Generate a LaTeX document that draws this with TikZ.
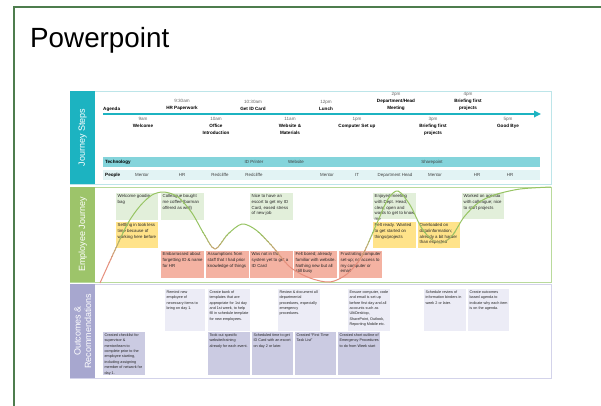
\documentclass[tikz,border=0pt]{standalone}
\usepackage{fontspec}
\setmainfont{Liberation Sans}
\usetikzlibrary{arrows.meta}

% palette
\definecolor{framegreen}{HTML}{4E7D4E}
\definecolor{stepteal}{HTML}{1CB3C1}
\definecolor{techbar}{HTML}{84D4DB}
\definecolor{peoplebar}{HTML}{E2F3F4}
\definecolor{stepframe}{HTML}{BDE5E9}
\definecolor{journeyband}{HTML}{9DC46A}
\definecolor{journeyframe}{HTML}{B9DA9C}
\definecolor{goodcard}{HTML}{E2EFDA}
\definecolor{mehcard}{HTML}{FFE38A}
\definecolor{badcard}{HTML}{F4B2A2}
\definecolor{outband}{HTML}{A7A7CF}
\definecolor{outframe}{HTML}{D3D3EA}
\definecolor{reclight}{HTML}{ECECF6}
\definecolor{recdark}{HTML}{CBCBE2}
\definecolor{curvegreen}{HTML}{97C463}
\definecolor{curvered}{HTML}{E68E7C}
\definecolor{timegray}{HTML}{666666}

\tikzset{
  band/.style={fill=#1, draw=none, anchor=north west, inner sep=0pt},
  bandlabel/.style={rotate=90, text=white, font=\fontsize{9}{10.5}\selectfont, align=center, inner sep=0pt},
  sectionframe/.style={draw=#1, line width=1pt},
  cardbox/.style={draw=none, anchor=north west, inner sep=0pt},
  cardtext/.style={anchor=north west, inner sep=1.5pt, font=\fontsize{4.35}{5.6}\selectfont, text=black!85},
  smallcard/.style={cardtext/.append style={inner sep=1.4pt, font=\fontsize{3.75}{5.4}\selectfont}},
  stepabove/.style={anchor=south, align=center, inner sep=0pt, font=\fontsize{4.6}{7}\selectfont},
  stepbelow/.style={anchor=north, align=center, inner sep=0pt, font=\fontsize{4.6}{7}\selectfont},
  rowbar/.style={fill=#1, draw=none, anchor=north west, inner sep=0pt, minimum width=437pt, minimum height=10pt},
  rowhead/.style={anchor=west, inner sep=0pt, font=\fontsize{4.6}{5.5}\selectfont\bfseries},
  rowitem/.style={inner sep=0pt, font=\fontsize{4.4}{5.5}\selectfont, text=black!75},
  timeline/.style={draw=stepteal, line width=1.6pt, -{Triangle[length=7pt,width=6.5pt]}},
}

\newcommand\tm[1]{{\color{timegray}\mdseries #1}}
% card: name, x, y, width, height, fill, text
\newcommand\jcard[7]{%
  \node[cardbox, fill=#6, minimum width=#4pt, minimum height=#5pt] (#1) at (#2,#3) {};
  \node[cardtext] (#1-t) at (#1.north west) {\parbox[t]{\dimexpr#4pt-2.8pt\relax}{\raggedright #7}};
}

\begin{document}
\begin{tikzpicture}[x=1pt, y=-1pt]
\clip (0,0) rectangle (601,405);
\useasboundingbox (0,0) rectangle (601,405);
\fill[white] (0,0) rectangle (601,405);

% slide frame and title
\draw[framegreen, line width=2pt] (14,7) rectangle (640,440);
\node[anchor=base west, inner sep=0pt, font=\fontsize{27.8}{30}\selectfont] (title) at (30,47) {Powerpoint};

% ---------------- Journey steps ----------------
\draw[sectionframe=stepframe] (70,91) rectangle (551,184);
\node[band=stepteal, minimum width=25pt, minimum height=93pt] (bsteps) at (70,91) {};
\node[bandlabel] (lsteps) at (bsteps.center) {Journey Steps};

\coordinate (tl0) at (103,114);
\coordinate (tl1) at (541,114);
\draw[timeline] (tl0) -- (tl1);
\node[anchor=south west, inner sep=0pt, font=\fontsize{4.6}{5.5}\selectfont\bfseries] (agenda) at (103,112) {Agenda};

\node[stepabove] (s0930) at (182,111) {\tm{9:30am}\\\bfseries HR Paperwork};
\node[stepabove] (s1030) at (253,111) {\tm{10:30am}\\\bfseries Get ID Card};
\node[stepabove] (s1200) at (326,111) {\tm{12pm}\\\bfseries Lunch};
\node[stepabove] (s1400) at (396,111) {\tm{2pm}\\\bfseries Department/Head\\\bfseries Meeting};
\node[stepabove] (s1600) at (468,111) {\tm{4pm}\\\bfseries Briefing first\\\bfseries projects};

\node[stepbelow] (s0900) at (143,117) {\tm{9am}\\\bfseries Welcome};
\node[stepbelow] (s1000) at (216,117) {\tm{10am}\\\bfseries Office\\\bfseries Introduction};
\node[stepbelow] (s1100) at (290,117) {\tm{11am}\\\bfseries Website \&\\\bfseries Materials};
\node[stepbelow] (s1300) at (357,117) {\tm{1pm}\\\bfseries Computer Set up};
\node[stepbelow] (s1500) at (433,117) {\tm{3pm}\\\bfseries Briefing first\\\bfseries projects};
\node[stepbelow] (s1700) at (508,117) {\tm{5pm}\\\bfseries Good Bye};

\node[rowbar=techbar] (tech) at (103,157) {};
\node[rowhead] (techh) at (105,162) {Technology};
\node[rowitem] (t1) at (254,162) {ID Printer};
\node[rowitem] (t2) at (296,162) {Website};
\node[rowitem] (t3) at (432,162) {Sharepoint};

\node[rowbar=peoplebar] (people) at (103,170) {};
\node[rowhead] (peopleh) at (105,175) {People};
\node[rowitem] (p1) at (142,175) {Mentor};
\node[rowitem] (p2) at (182,175) {HR};
\node[rowitem] (p3) at (220,175) {Redcliffe};
\node[rowitem] (p4) at (254,175) {Redcliffe};
\node[rowitem] (p5) at (327,175) {Mentor};
\node[rowitem] (p6) at (357,175) {IT};
\node[rowitem] (p7) at (395,175) {Department Head};
\node[rowitem] (p8) at (435,175) {Mentor};
\node[rowitem] (p9) at (477,175) {HR};
\node[rowitem] (p10) at (510,175) {HR};

% ---------------- Employee journey ----------------
\draw[sectionframe=journeyframe] (70,187) rectangle (551,282);
\node[band=journeyband, minimum width=25pt, minimum height=95pt] (bjour) at (70,187) {};
\node[bandlabel] (ljour) at (bjour.center) {Employee Journey};

\jcard{jg1}{116}{193}{42}{27}{goodcard}{Welcome goodie bag}
\jcard{jg2}{161}{193}{43}{27}{goodcard}{Colleague bought me coffee (barman offered as well)}
\jcard{jg3}{250}{193}{43}{27}{goodcard}{Nice to have an escort to get my ID Card, eased stress of new job}
\jcard{jg4}{373}{193}{43}{26}{goodcard}{Enjoyed meeting with Dept. Head, clear, open and wants to get to know me}
\jcard{jg5}{462}{193}{42}{26}{goodcard}{Worked on agenda with colleague; nice to start projects}

\jcard{jy1}{116}{222}{42}{26}{mehcard}{Settling in took less time because of working here before}
\jcard{jy2}{373}{222}{43}{26}{mehcard}{Felt ready. Wanted to get started on things/projects}
\jcard{jy3}{418}{222}{42}{26}{mehcard}{Overloaded on data/information; already a bit harder than expected}

\jcard{jr1}{161}{251}{43}{27}{badcard}{Embarrassed about forgetting ID \& name for HR}
\jcard{jr2}{206}{251}{43}{27}{badcard}{Assumptions from staff that I had prior knowledge of things}
\jcard{jr3}{250}{251}{43}{27}{badcard}{Was not in the system yet to get a ID Card}
\jcard{jr4}{294}{251}{43}{27}{badcard}{Felt bored; already familiar with website. Nothing new but all still busy}
\jcard{jr5}{339}{251}{43}{27}{badcard}{Frustrating computer set-up; no access to my computer or email}

% emotion curve, shaded from green (high) to red (low)
\def\mood{plot[smooth, tension=0.5] coordinates {
  (100,283) (115,250) (128,223) (140,206) (152,195) (164,192) (178,197)
  (192,213) (204,234) (215,249) (228,234) (242,224) (256,230) (272,246)
  (290,267) (310,278) (330,282) (347,274) (362,256) (377,223) (388,199)
  (398,191) (410,205) (421,227) (431,239) (441,243) (452,236) (464,217)
  (478,203) (494,195) (520,189) (551,187)}}
\begin{scope}
  \clip (0,0) rectangle (601,232);
  \draw[curvegreen, line width=1pt] \mood;
\end{scope}
\begin{scope}
  \clip (0,262) rectangle (601,300);
  \draw[curvered, line width=1pt] \mood;
\end{scope}
\foreach \i in {0,...,9}{
  \pgfmathsetmacro\ya{232+3*\i}
  \pgfmathsetmacro\yb{\ya+3}
  \pgfmathtruncatemacro\pc{100-10*\i-5}
  \begin{scope}
    \clip (0,\ya) rectangle (601,\yb);
    \draw[curvegreen!\pc!curvered, line width=1pt] \mood;
  \end{scope}
}

% ---------------- Outcomes & recommendations ----------------
\draw[sectionframe=outframe] (70,284) rectangle (551,378);
\node[band=outband, minimum width=25pt, minimum height=94pt] (bout) at (70,284) {};
\node[bandlabel] (lout) at (bout.center) {Outcomes \&\\Recommendations};

\begin{scope}[smallcard]
\jcard{or1}{165}{289}{40}{42}{reclight}{Remind new employee of necessary items to bring on day 1.}
\jcard{or2}{208}{289}{42}{42}{reclight}{Create bank of templates that are appropriate for 1st day and 1st week, to help fill in schedule template for new employees.}
\jcard{or3}{278}{289}{42}{42}{reclight}{Review \& document all departmental procedures, especially emergency procedures.}
\jcard{or4}{348}{289}{42}{42}{reclight}{Ensure computer, code and email is set up before first day and all accounts such as UltiDesktop, SharePoint, Outlook, Reporting Mobile etc.}
\jcard{or5}{424}{289}{42}{42}{reclight}{Schedule review of information binders in week 2 or later.}
\jcard{or6}{468}{289}{41}{42}{reclight}{Create outcomes based agenda to indicate why each item is on the agenda.}

\jcard{ol1}{103}{332}{42}{43}{recdark}{Created checklist for supervisor \& mentor/team to complete prior to the employee starting, including assigning member of network for day 1.}
\jcard{ol2}{208}{332}{42}{43}{recdark}{Took out specific website/training already for each event.}
\jcard{ol3}{252}{332}{41}{43}{recdark}{Scheduled time to get ID Card with an escort on day 2 or later.}
\jcard{ol4}{295}{332}{41}{43}{recdark}{Created “First Time Task List”}
\jcard{ol5}{338}{332}{42}{43}{recdark}{Created short outline of Emergency Procedures to do from Week start}
\end{scope}

\end{tikzpicture}
\end{document}
